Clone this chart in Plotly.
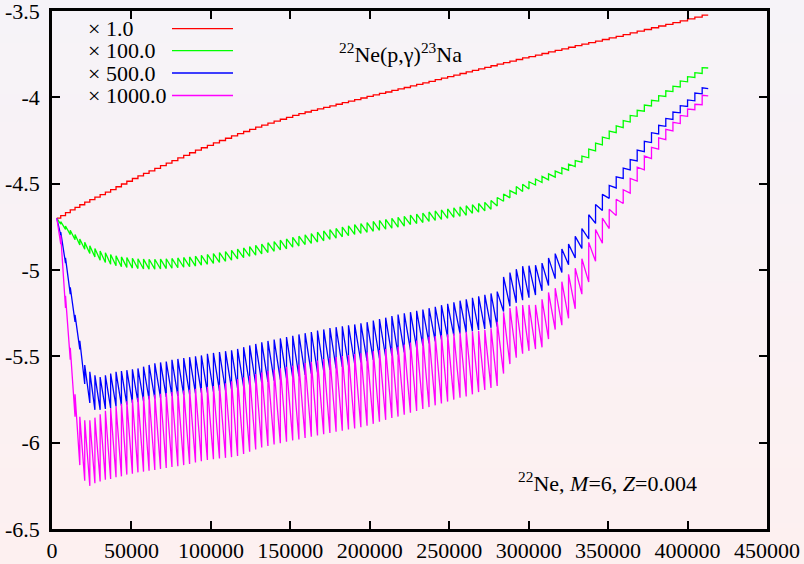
import base64
import struct
import zlib
import plotly.graph_objects as go

# ---------------- data ----------------
# times of the pulses (in units of 1000)
pulse_k = [5.5, 8.5, 11.5, 14.5, 17.5, 20.6, 23.8, 27.0, 30.3, 33.6,
           36.9, 40.3, 43.7, 47.1, 50.6, 54.1, 57.6, 61.1, 64.7, 68.3,
           71.9, 75.5, 79.2, 82.9, 86.6, 90.3, 94.0, 97.8, 101.6, 105.4,
           109.2, 113.0, 116.8, 120.6, 124.4, 128.2, 132.0, 135.9, 139.8, 143.7,
           147.6, 151.5, 155.4, 159.3, 163.2, 167.1, 171.0, 174.9, 178.8, 182.7,
           186.6, 190.5, 194.4, 198.3, 202.2, 206.1, 210.0, 213.9, 217.8, 221.7,
           225.6, 229.5, 233.4, 237.3, 241.2, 245.1, 249.0, 252.9, 256.8, 260.7,
           264.6, 268.5, 272.4, 276.3, 280.2, 284.2, 288.2, 292.2, 296.2, 300.2,
           304.3, 308.4, 312.5, 316.7, 320.9, 325.1, 329.3, 333.5, 337.8, 342.1,
           346.4, 350.7, 355.1, 359.5, 363.9, 368.3, 372.8, 377.3, 381.8, 386.3,
           390.8, 395.4, 400.0, 404.6, 409.2]
start_k = 3.0
end_k = 413.0
start_value = -4.70

# x 1.0 : staircase value after each pulse
red_step = [-4.685, -4.668, -4.652, -4.637, -4.622, -4.607, -4.592, -4.578, -4.564, -4.549,
            -4.534, -4.518, -4.502, -4.486, -4.470, -4.455, -4.440, -4.426, -4.411, -4.396,
            -4.381, -4.366, -4.351, -4.336, -4.321, -4.306, -4.292, -4.278, -4.264, -4.250,
            -4.237, -4.223, -4.210, -4.198, -4.186, -4.173, -4.161, -4.149, -4.138, -4.127,
            -4.116, -4.105, -4.094, -4.085, -4.076, -4.067, -4.058, -4.049, -4.040, -4.031,
            -4.022, -4.013, -4.004, -3.995, -3.986, -3.977, -3.969, -3.960, -3.951, -3.943,
            -3.934, -3.925, -3.916, -3.907, -3.898, -3.889, -3.880, -3.871, -3.862, -3.853,
            -3.844, -3.835, -3.826, -3.817, -3.808, -3.799, -3.790, -3.781, -3.772, -3.764,
            -3.755, -3.746, -3.737, -3.728, -3.719, -3.710, -3.701, -3.692, -3.683, -3.674,
            -3.665, -3.656, -3.647, -3.637, -3.627, -3.617, -3.607, -3.597, -3.587, -3.577,
            -3.567, -3.557, -3.546, -3.535, -3.524]
red_end = -3.524

# x 100.0 : value just before / just after each pulse
green_pre = [-4.735, -4.765, -4.795, -4.825, -4.855, -4.880, -4.905, -4.925, -4.943, -4.957,
             -4.967, -4.975, -4.981, -4.985, -4.989, -4.992, -4.994, -4.995, -4.995, -4.994,
             -4.992, -4.990, -4.987, -4.984, -4.981, -4.977, -4.972, -4.967, -4.962, -4.956,
             -4.950, -4.943, -4.936, -4.929, -4.921, -4.914, -4.907, -4.899, -4.892, -4.884,
             -4.877, -4.868, -4.861, -4.853, -4.846, -4.838, -4.831, -4.823, -4.816, -4.808,
             -4.801, -4.794, -4.788, -4.782, -4.776, -4.770, -4.764, -4.758, -4.752, -4.746,
             -4.737, -4.731, -4.725, -4.719, -4.713, -4.707, -4.701, -4.695, -4.689, -4.683,
             -4.672, -4.665, -4.658, -4.648, -4.630, -4.602, -4.582, -4.559, -4.545, -4.531,
             -4.508, -4.493, -4.478, -4.462, -4.443, -4.422, -4.401, -4.375, -4.350, -4.310,
             -4.275, -4.240, -4.205, -4.175, -4.143, -4.110, -4.080, -4.050, -4.022, -3.995,
             -3.967, -3.940, -3.910, -3.885, -3.862]
green_post = [-4.720, -4.745, -4.770, -4.795, -4.820, -4.840, -4.860, -4.875, -4.890, -4.900,
              -4.910, -4.918, -4.924, -4.928, -4.932, -4.935, -4.937, -4.938, -4.938, -4.937,
              -4.935, -4.933, -4.930, -4.927, -4.924, -4.920, -4.915, -4.910, -4.905, -4.899,
              -4.893, -4.886, -4.879, -4.872, -4.864, -4.857, -4.850, -4.842, -4.835, -4.827,
              -4.820, -4.811, -4.804, -4.796, -4.789, -4.781, -4.774, -4.766, -4.759, -4.751,
              -4.744, -4.737, -4.731, -4.725, -4.719, -4.713, -4.707, -4.701, -4.695, -4.689,
              -4.682, -4.676, -4.670, -4.664, -4.658, -4.652, -4.646, -4.640, -4.634, -4.628,
              -4.622, -4.615, -4.608, -4.598, -4.580, -4.560, -4.540, -4.517, -4.503, -4.489,
              -4.473, -4.458, -4.443, -4.427, -4.408, -4.387, -4.366, -4.340, -4.300, -4.265,
              -4.230, -4.196, -4.165, -4.135, -4.105, -4.075, -4.045, -4.017, -3.990, -3.962,
              -3.935, -3.905, -3.880, -3.857, -3.828]
green_end = -3.830

# x 500.0
blue_pre = [-4.800, -4.960, -5.140, -5.300, -5.460, -5.660, -5.770, -5.810, -5.810, -5.805,
            -5.800, -5.790, -5.785, -5.780, -5.770, -5.765, -5.760, -5.750, -5.745, -5.740,
            -5.735, -5.730, -5.730, -5.725, -5.720, -5.715, -5.710, -5.710, -5.705, -5.700,
            -5.698, -5.690, -5.684, -5.676, -5.668, -5.661, -5.654, -5.648, -5.641, -5.635,
            -5.628, -5.622, -5.616, -5.608, -5.600, -5.593, -5.585, -5.578, -5.570, -5.561,
            -5.553, -5.544, -5.535, -5.528, -5.520, -5.512, -5.504, -5.496, -5.490, -5.477,
            -5.464, -5.451, -5.438, -5.425, -5.413, -5.402, -5.391, -5.380, -5.369, -5.362,
            -5.355, -5.348, -5.342, -5.335, -5.328, -5.240, -5.210, -5.190, -5.175, -5.160,
            -5.145, -5.120, -5.090, -5.050, -5.015, -4.970, -4.930, -4.875, -4.820, -4.730,
            -4.655, -4.585, -4.525, -4.470, -4.420, -4.368, -4.315, -4.262, -4.212, -4.168,
            -4.128, -4.090, -4.053, -4.020, -3.980]
blue_post = [-4.780, -4.930, -5.100, -5.260, -5.410, -5.550, -5.590, -5.610, -5.620, -5.610,
             -5.600, -5.590, -5.585, -5.580, -5.575, -5.570, -5.560, -5.550, -5.540, -5.535,
             -5.530, -5.520, -5.515, -5.510, -5.505, -5.500, -5.495, -5.485, -5.480, -5.475,
             -5.470, -5.465, -5.457, -5.447, -5.437, -5.428, -5.419, -5.411, -5.403, -5.396,
             -5.388, -5.381, -5.373, -5.366, -5.359, -5.351, -5.344, -5.336, -5.331, -5.326,
             -5.320, -5.315, -5.309, -5.302, -5.293, -5.284, -5.276, -5.267, -5.258, -5.251,
             -5.244, -5.236, -5.229, -5.221, -5.213, -5.204, -5.196, -5.187, -5.178, -5.170,
             -5.161, -5.152, -5.144, -5.136, -5.125, -5.040, -5.015, -4.995, -4.978, -4.975,
             -4.972, -4.960, -4.930, -4.905, -4.878, -4.850, -4.805, -4.760, -4.680, -4.620,
             -4.562, -4.510, -4.460, -4.410, -4.360, -4.305, -4.255, -4.205, -4.162, -4.122,
             -4.085, -4.048, -4.015, -3.975, -3.945]
blue_end = -3.950

# x 1000.0
mag_pre = [-4.850, -5.220, -5.520, -5.850, -6.130, -6.220, -6.250, -6.235, -6.225, -6.215,
           -6.210, -6.200, -6.195, -6.185, -6.180, -6.172, -6.168, -6.163, -6.158, -6.152,
           -6.147, -6.141, -6.137, -6.130, -6.123, -6.115, -6.108, -6.100, -6.096, -6.092,
           -6.088, -6.084, -6.077, -6.065, -6.053, -6.040, -6.028, -6.019, -6.011, -6.003,
           -5.995, -5.987, -5.981, -5.973, -5.966, -5.958, -5.951, -5.944, -5.937, -5.931,
           -5.924, -5.918, -5.911, -5.902, -5.891, -5.879, -5.868, -5.857, -5.849, -5.838,
           -5.827, -5.816, -5.805, -5.794, -5.784, -5.773, -5.762, -5.751, -5.740, -5.732,
           -5.720, -5.707, -5.695, -5.683, -5.672, -5.600, -5.545, -5.508, -5.485, -5.468,
           -5.458, -5.448, -5.400, -5.345, -5.320, -5.280, -5.225, -5.140, -5.070, -4.950,
           -4.845, -4.760, -4.685, -4.615, -4.555, -4.485, -4.420, -4.355, -4.300, -4.245,
           -4.195, -4.152, -4.110, -4.072, -4.043]
mag_post = [-4.800, -5.150, -5.450, -5.720, -5.850, -5.870, -5.870, -5.855, -5.835, -5.815,
            -5.800, -5.790, -5.775, -5.760, -5.750, -5.740, -5.733, -5.728, -5.722, -5.717,
            -5.712, -5.707, -5.702, -5.698, -5.693, -5.688, -5.683, -5.677, -5.672, -5.665,
            -5.656, -5.645, -5.632, -5.622, -5.612, -5.602, -5.593, -5.585, -5.577, -5.569,
            -5.561, -5.554, -5.547, -5.539, -5.532, -5.524, -5.516, -5.509, -5.504, -5.498,
            -5.493, -5.487, -5.482, -5.477, -5.470, -5.464, -5.457, -5.451, -5.444, -5.432,
            -5.420, -5.409, -5.397, -5.386, -5.383, -5.378, -5.373, -5.368, -5.362, -5.358,
            -5.356, -5.354, -5.348, -5.338, -5.300, -5.245, -5.220, -5.210, -5.203, -5.202,
            -5.202, -5.170, -5.130, -5.105, -5.068, -5.025, -4.990, -4.935, -4.840, -4.765,
            -4.700, -4.648, -4.590, -4.535, -4.470, -4.405, -4.340, -4.290, -4.235, -4.185,
            -4.145, -4.105, -4.068, -4.040, -3.988]
mag_end = -3.992

legend_labels = ["\u00d7 1.0", "\u00d7 100.0", "\u00d7 500.0", "\u00d7 1000.0"]
series_colors = ["#ff0000", "#00ff00", "#0000ff", "#ff00ff"]

x_ticks = [0, 50000, 100000, 150000, 200000, 250000, 300000, 350000, 400000, 450000]
x_ticktext = ["0", "50000", "100000", "150000", "200000", "250000", "300000",
              "350000", "400000", "450000"]
y_ticks = [-6.5, -6.0, -5.5, -5.0, -4.5, -4.0, -3.5]
y_ticktext = ["-6.5", "-6", "-5.5", "-5", "-4.5", "-4", "-3.5"]

# ---------------- build ----------------
FONT = "Liberation Serif, Times New Roman, serif"
FS = 22
W, H = 804, 564
ML, MR, MT, MB = 52, 37, 11, 35
PW, PH = W - ML - MR, H - MT - MB


def px_x(px):
    return (px - ML) / PW


def px_y(py):
    return (H - MB - py) / PH


def sawtooth(pre, post, end_value):
    xs, ys = [start_k * 1000], [start_value]
    for t, a, b in zip(pulse_k, pre, post):
        xs += [t * 1000, t * 1000]
        ys += [a, b]
    xs.append(end_k * 1000)
    ys.append(end_value)
    return xs, ys


def gradient_png(top, bottom, h=256, w=4):
    rows = []
    for j in range(h):
        f = j / (h - 1)
        c = [round(top[k] + (bottom[k] - top[k]) * f) for k in range(3)]
        rows.append(b"\x00" + bytes(c * w))
    raw = b"".join(rows)

    def chunk(tag, data):
        return (struct.pack(">I", len(data)) + tag + data
                + struct.pack(">I", zlib.crc32(tag + data) & 0xffffffff))

    png = (b"\x89PNG\r\n\x1a\n"
           + chunk(b"IHDR", struct.pack(">IIBBBBB", w, h, 8, 2, 0, 0, 0))
           + chunk(b"IDAT", zlib.compress(raw, 9))
           + chunk(b"IEND", b""))
    return "data:image/png;base64," + base64.b64encode(png).decode()


fig = go.Figure()

# red staircase
rx = [start_k * 1000] + [t * 1000 for t in pulse_k] + [end_k * 1000]
ry = [start_value] + red_step + [red_end]
fig.add_trace(go.Scatter(x=rx, y=ry, mode="lines", line=dict(color=series_colors[0], width=1.3, shape="hv"),
                         showlegend=False, hoverinfo="skip"))

for pre, post, endv, col in [(green_pre, green_post, green_end, series_colors[1]),
                             (blue_pre, blue_post, blue_end, series_colors[2]),
                             (mag_pre, mag_post, mag_end, series_colors[3])]:
    xs, ys = sawtooth(pre, post, endv)
    fig.add_trace(go.Scatter(x=xs, y=ys, mode="lines", line=dict(color=col, width=1.3),
                             showlegend=False, hoverinfo="skip"))

# manual legend (text left, line sample right, like gnuplot)
legend_y_px = [28.7, 50.7, 73.0, 95.5]
shapes = []
annotations = []
for lab, col, ypx in zip(legend_labels, series_colors, legend_y_px):
    annotations.append(dict(x=px_x(86), y=px_y(ypx), xref="paper", yref="paper", text=lab,
                            showarrow=False, xanchor="left", yanchor="middle",
                            font=dict(family=FONT, size=FS, color="black")))
    shapes.append(dict(type="line", xref="paper", yref="paper", x0=px_x(172), x1=px_x(233),
                       y0=px_y(ypx), y1=px_y(ypx), line=dict(color=col, width=1.3)))

annotations.append(dict(x=px_x(400), y=px_y(53), xref="paper", yref="paper",
                        text="<sup>22</sup>Ne(p,\u03b3)<sup>23</sup>Na", showarrow=False,
                        xanchor="center", yanchor="middle",
                        font=dict(family=FONT, size=FS, color="black")))
annotations.append(dict(x=px_x(607), y=px_y(482), xref="paper", yref="paper",
                        text="<sup>22</sup>Ne, <i>M</i>=6, <i>Z</i>=0.004", showarrow=False,
                        xanchor="center", yanchor="middle",
                        font=dict(family=FONT, size=FS, color="black")))

axis_common = dict(showline=True, linecolor="black", linewidth=2.5, mirror="ticks",
                   ticks="inside", ticklen=8, tickwidth=2, tickcolor="black",
                   showgrid=False, zeroline=False, automargin=False,
                   ticklabeloverflow="allow",
                   tickfont=dict(family=FONT, size=FS, color="black"))

fig.update_layout(
    width=W, height=H, autosize=False,
    margin=dict(l=ML, r=MR, t=MT, b=MB, pad=0),
    paper_bgcolor="#f9f2f5", plot_bgcolor="rgba(0,0,0,0)",
    xaxis=dict(range=[0, 450000], tickmode="array", tickvals=x_ticks, ticktext=x_ticktext,
               **axis_common),
    yaxis=dict(range=[-6.5, -3.5], tickmode="array", tickvals=y_ticks, ticktext=y_ticktext,
               ticklabelstandoff=5, **axis_common),
    shapes=shapes,
    annotations=annotations,
    images=[dict(source=gradient_png((246, 243, 248), (253, 240, 240)),
                 xref="paper", yref="paper", x=-ML / PW, y=1 + MT / PH,
                 sizex=W / PW, sizey=H / PH, sizing="stretch",
                 xanchor="left", yanchor="top", layer="below")],
)

fig.write_html("out.html")
